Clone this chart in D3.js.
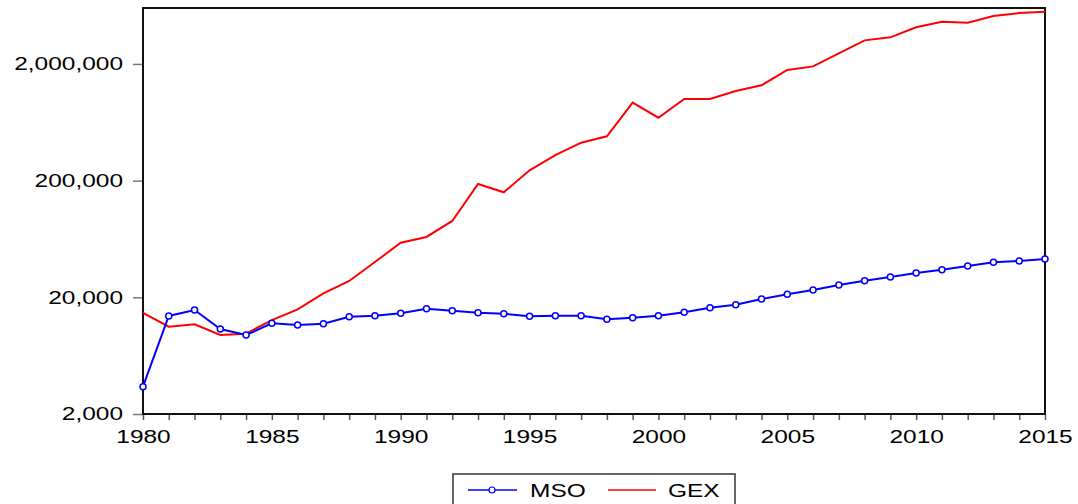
<!DOCTYPE html>
<html><head><meta charset="utf-8">
<script src="https://cdn.jsdelivr.net/npm/d3@7"></script>
<style>body{margin:0;background:#fff;}svg{display:block;}text{font-family:"Liberation Sans",Arial,sans-serif;}</style>
</head><body>
<svg id="c" width="1078" height="504"></svg>
<script>
const years = d3.range(1980, 2016);
const yTickValues = [2000, 20000, 200000, 2000000];
const xLabelYears = [1980, 1985, 1990, 1995, 2000, 2005, 2010, 2015];
const seriesNames = ["MSO", "GEX"];
const mso = [3430, 13840, 15570, 10700, 9500, 11970, 11590, 11880, 13650, 13900,
  14590, 15980, 15350, 14760, 14460, 13740, 13900, 13900, 12950, 13380,
  13900, 14870, 16290, 17290, 19340, 21220, 23100, 25500, 27740, 29860,
  32300, 34500, 37080, 39900, 40940, 42580];
const gex = [14690, 11200, 11740, 9500, 9760, 12770, 15780, 21630, 27600, 40100,
  58800, 65800, 90200, 187000, 158800, 245000, 331000, 423000, 480000, 931000,
  692000, 1000000, 1000000, 1172000, 1312000, 1775000, 1906000, 2466000, 3184000, 3380000,
  4120000, 4600000, 4510000, 5140000, 5460000, 5600000];
const yDomain = [2000, 6030000];

const svg = d3.select("#c");
const L = 143, R = 1045, T = 8, B = 414;
const SX = 1.36;
const x = d3.scaleLinear().domain([1980, 2015]).range([L, R]);
const y = d3.scaleLog().domain(yDomain).range([B, T]);

// y axis
const ya = svg.append("g").attr("transform", `translate(${L},0)`)
  .call(d3.axisLeft(y).tickValues(yTickValues).tickSize(10).tickFormat(d3.format(",")));
ya.select(".domain").remove();
ya.selectAll(".tick line").attr("stroke", "#777").attr("stroke-width", 1.5);
ya.selectAll(".tick text").attr("font-size", 18).attr("fill", "#000")
  .attr("x", -20 / SX).attr("dy", "0.32em").attr("transform", `scale(${SX},1)`)
  .style("font-family", '"Liberation Sans",Arial,sans-serif');

// x axis
const xa = svg.append("g").attr("transform", `translate(0,${B})`)
  .call(d3.axisBottom(x).tickValues(years).tickSize(6)
    .tickFormat(d => xLabelYears.includes(d) ? String(d) : ""));
xa.select(".domain").remove();
xa.selectAll(".tick line").attr("stroke", "#555").attr("stroke-width", 1.5);
xa.selectAll(".tick text").attr("font-size", 18).attr("fill", "#000")
  .attr("y", 16).attr("dy", "0.71em").attr("transform", `scale(${SX},1)`)
  .style("font-family", '"Liberation Sans",Arial,sans-serif');

// frame
svg.append("rect").attr("x", L).attr("y", T).attr("width", R - L).attr("height", B - T)
  .attr("fill", "none").attr("stroke", "#111").attr("stroke-width", 2);

const line = d3.line().x((d, i) => x(years[i])).y(d => y(d));
svg.append("path").datum(gex).attr("d", line).attr("fill", "none")
  .attr("stroke", "#ff0000").attr("stroke-width", 2);
svg.append("path").datum(mso).attr("d", line).attr("fill", "none")
  .attr("stroke", "#0000ff").attr("stroke-width", 2);
svg.append("g").selectAll("circle").data(mso).join("circle")
  .attr("cx", (d, i) => x(years[i])).attr("cy", d => y(d)).attr("r", 3)
  .attr("fill", "#fff").attr("stroke", "#0000ff").attr("stroke-width", 1.5);

// legend
const lg = svg.append("g");
lg.append("rect").attr("x", 453).attr("y", 474).attr("width", 282).attr("height", 40)
  .attr("fill", "#fff").attr("stroke", "#333").attr("stroke-width", 1.5);
lg.append("line").attr("x1", 468).attr("x2", 517).attr("y1", 490).attr("y2", 490)
  .attr("stroke", "#0000ff").attr("stroke-width", 1.5);
lg.append("circle").attr("cx", 492).attr("cy", 490).attr("r", 3)
  .attr("fill", "#fff").attr("stroke", "#0000ff").attr("stroke-width", 1.2);
lg.append("line").attr("x1", 608).attr("x2", 656).attr("y1", 490).attr("y2", 490)
  .attr("stroke", "#ff0000").attr("stroke-width", 1.5);
lg.append("text").attr("x", 530 / SX).attr("y", 497).attr("transform", `scale(${SX},1)`)
  .attr("font-size", 18).text(seriesNames[0]);
lg.append("text").attr("x", 668 / SX).attr("y", 497).attr("transform", `scale(${SX},1)`)
  .attr("font-size", 18).text(seriesNames[1]);
</script>
</body></html>
